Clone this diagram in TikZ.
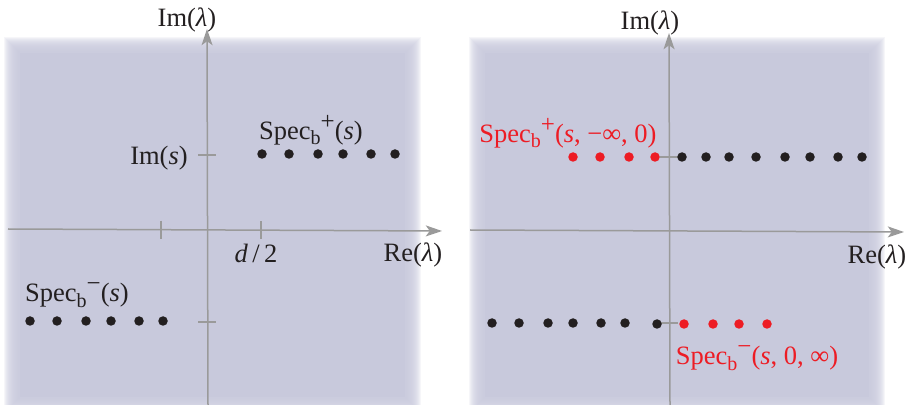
\documentclass[tikz,border=0pt]{standalone}
\usepackage{fontspec}
\setmainfont{Liberation Serif}
\usetikzlibrary{arrows.meta, positioning}
\definecolor{axisgray}{HTML}{9A9A9A}
\definecolor{planeblue}{HTML}{C8C9DC}
\definecolor{specred}{HTML}{ED1C24}
\definecolor{dotblack}{HTML}{231F20}
\newcommand{\specb}[1]{Spec\raisebox{-0.45ex}{\fontsize{8}{8}\selectfont b}\raisebox{0.85ex}{\fontsize{10}{10}\selectfont #1}}

\begin{document}
\begin{tikzpicture}[
    x=0.4pt, y=-0.4pt,
    axis/.style={-{Stealth[length=6.5pt, width=4.4pt, inset=1.6pt]}, draw=axisgray, line width=0.6pt},
    tick/.style={draw=axisgray, line width=0.6pt},
    dot/.style={circle, fill=dotblack, inner sep=0pt, minimum size=3.8pt},
    reddot/.style={dot, fill=specred},
    lbl/.style={font=\fontsize{10.6}{12}\selectfont, text=dotblack, inner sep=1pt},
    redlbl/.style={lbl, text=specred}
]
\useasboundingbox (0,0) rectangle (906,405);

% Shaded planes with soft edges
\foreach \k in {0,...,15} {
    \fill[planeblue, opacity=0.17] (4+\k, 37+\k) rectangle (421-\k, 413-\k);
    \fill[planeblue, opacity=0.17] (469+\k, 37+\k) rectangle (885-\k, 413-\k);
}
\fill[planeblue] (20, 53) rectangle (405, 397);
\fill[planeblue] (485, 53) rectangle (869, 397);

% Left plane: axes
\coordinate (lw) at (8,229);
\coordinate (le) at (442,231);
\coordinate (ls) at (208,405);
\coordinate (ln) at (207,29);
\draw[axis] (lw) -- (le);
\draw[axis] (ls) -- (ln);

% Left plane: ticks
\coordinate (ltneg) at (161,229.7);
\coordinate (lthalf) at (261,230.2);
\coordinate (ltup) at (207,155);
\coordinate (ltdown) at (207,322);
\draw[tick] (ltneg) ++(0,-9) -- ++(0,18);
\draw[tick] (lthalf) ++(0,-9) -- ++(0,18);
\draw[tick] (ltup) ++(-9,0) -- ++(18,0);
\draw[tick] (ltdown) ++(-9,0) -- ++(18,0);

% Left plane: spectra
\node[dot] (lp1) at (262,154) {}; \node[dot] (lp2) at (289,154) {};
\node[dot] (lp3) at (318,154) {}; \node[dot] (lp4) at (343,154) {};
\node[dot] (lp5) at (371,154) {}; \node[dot] (lp6) at (395,154) {};
\node[dot] (lm1) at (30,321) {};  \node[dot] (lm2) at (57,321) {};
\node[dot] (lm3) at (86,321) {};  \node[dot] (lm4) at (111,321) {};
\node[dot] (lm5) at (139,321) {}; \node[dot] (lm6) at (163,321) {};

% Left plane: labels
\node[lbl] (limlam) at (187,20) {Im(\textit{λ})};
\node[lbl] (lrelam) at (413,255) {Re(\textit{λ})};
\node[lbl] (lims) at (159,158) {Im(\textit{s})};
\node[lbl] (lhalf) at (256,253) {\textit{d}\,/\,2};
\node[lbl] (lspecp) at (311,130) {\specb{+}(\textit{s})};
\node[lbl] (lspecm) at (77,295) {\specb{−}(\textit{s})};

% Right plane: axes
\coordinate (rw) at (470,230);
\coordinate (re) at (904,232);
\coordinate (rs) at (670,405);
\coordinate (rn) at (669,33);
\draw[axis] (rw) -- (re);
\draw[axis] (rs) -- (rn);

% Right plane: ticks
\coordinate (rtup) at (669,157);
\coordinate (rtdown) at (669,323);
\draw[tick] (rtup) ++(-9,0) -- ++(18,0);
\draw[tick] (rtdown) ++(-9,0) -- ++(18,0);

% Right plane: upper spectrum
\node[reddot] (rq1) at (573,157) {}; \node[reddot] (rq2) at (600,157) {};
\node[reddot] (rq3) at (629,157) {}; \node[reddot] (rq4) at (655,157) {};
\node[dot] (rp1) at (682,157) {}; \node[dot] (rp2) at (706,157) {};
\node[dot] (rp3) at (729,157) {}; \node[dot] (rp4) at (756,157) {};
\node[dot] (rp5) at (785,157) {}; \node[dot] (rp6) at (810,157) {};
\node[dot] (rp7) at (838,157) {}; \node[dot] (rp8) at (862,157) {};

% Right plane: lower spectrum
\node[dot] (rm1) at (492,323) {}; \node[dot] (rm2) at (519,323) {};
\node[dot] (rm3) at (548,323) {}; \node[dot] (rm4) at (573,323) {};
\node[dot] (rm5) at (601,323) {}; \node[dot] (rm6) at (625,323) {};
\node[dot] (rm7) at (657,324) {};
\node[reddot] (rn1) at (684,324) {}; \node[reddot] (rn2) at (713,324) {};
\node[reddot] (rn3) at (739,324) {}; \node[reddot] (rn4) at (767,324) {};

% Right plane: labels
\node[lbl] (rimlam) at (650,23) {Im(\textit{λ})};
\node[lbl] (rrelam) at (877,257) {Re(\textit{λ})};
\node[redlbl] (rspecp) at (568,133) {\specb{+}(\textit{s}, −∞, 0)};
\node[redlbl] (rspecm) at (757,358) {\specb{−}(\textit{s}, 0, ∞)};

\end{tikzpicture}
\end{document}
